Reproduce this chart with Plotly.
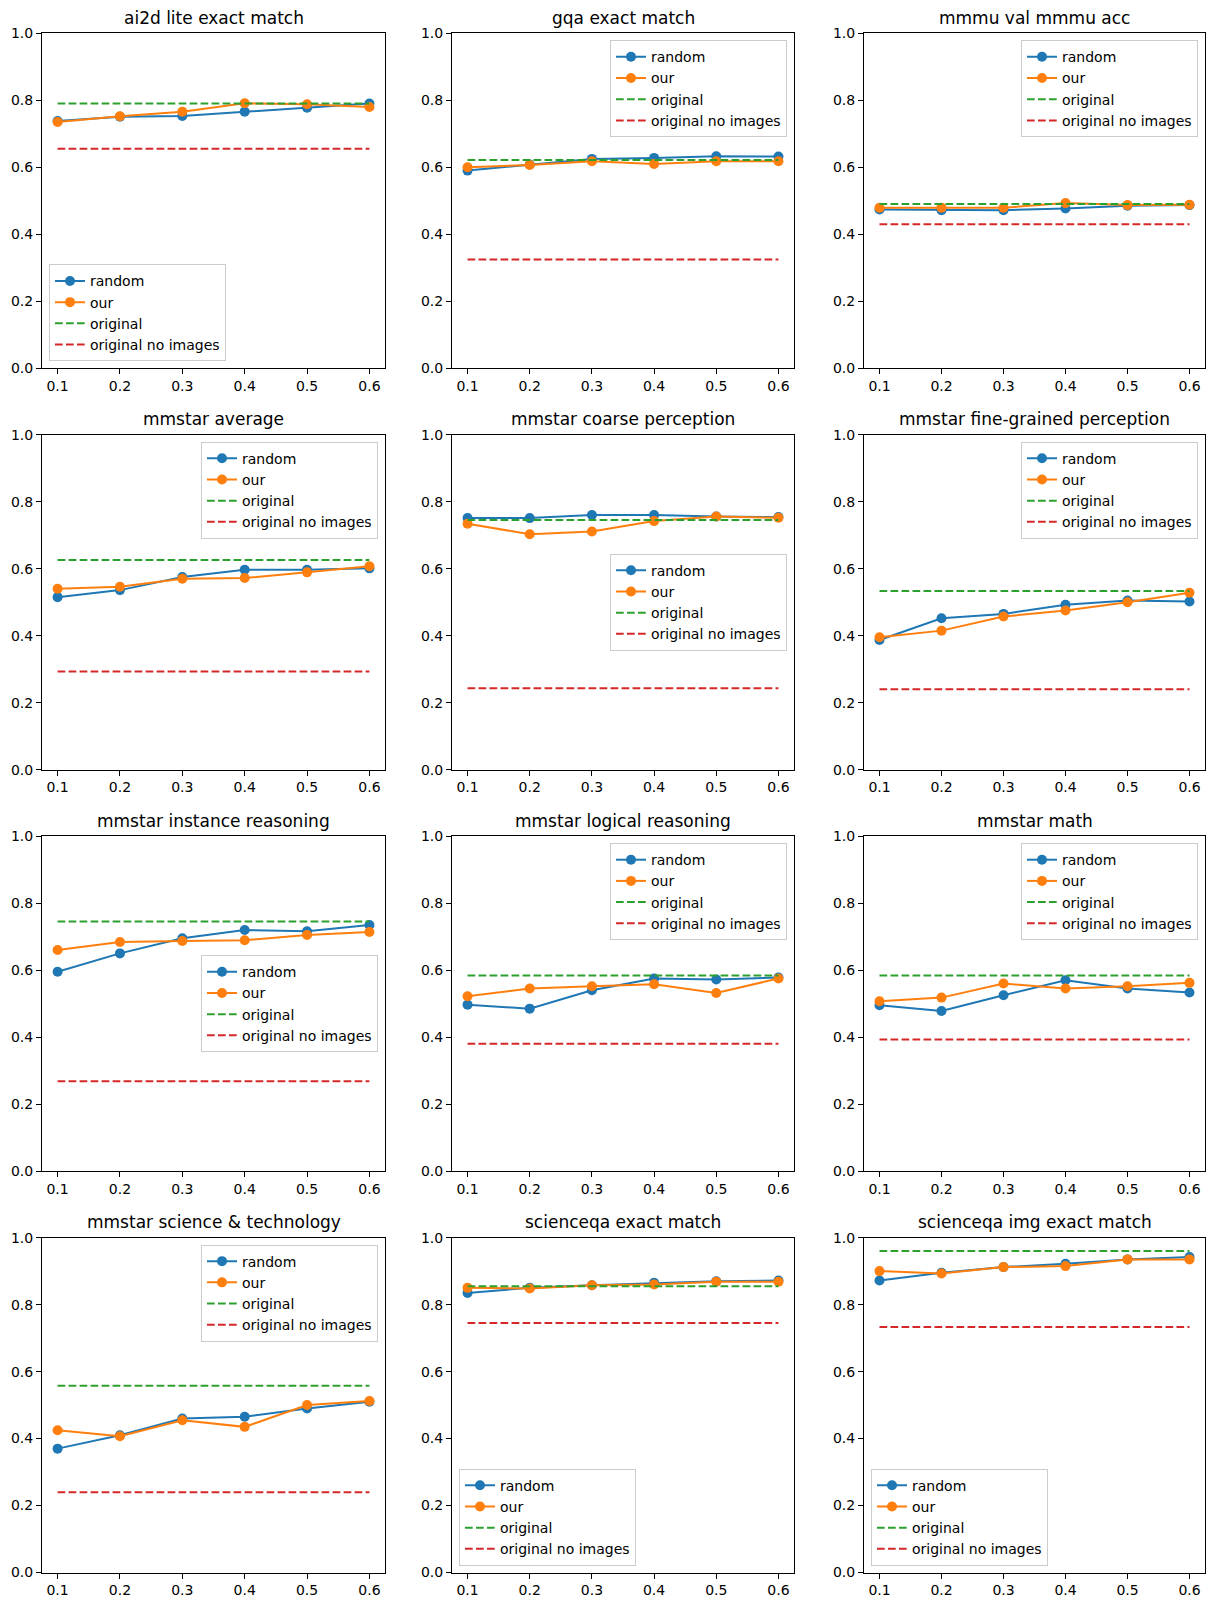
import plotly.graph_objects as go

x_vals = [0.1, 0.2, 0.3, 0.4, 0.5, 0.6]

titles = [
    "ai2d lite exact match", "gqa exact match", "mmmu val mmmu acc",
    "mmstar average", "mmstar coarse perception", "mmstar fine-grained perception",
    "mmstar instance reasoning", "mmstar logical reasoning", "mmstar math",
    "mmstar science & technology", "scienceqa exact match", "scienceqa img exact match",
]

random_scores = [
    [0.738, 0.751, 0.753, 0.766, 0.778, 0.790],
    [0.590, 0.608, 0.625, 0.628, 0.633, 0.632],
    [0.474, 0.472, 0.472, 0.477, 0.485, 0.487],
    [0.515, 0.536, 0.575, 0.597, 0.597, 0.601],
    [0.751, 0.751, 0.760, 0.760, 0.756, 0.754],
    [0.387, 0.452, 0.465, 0.492, 0.505, 0.502],
    [0.595, 0.650, 0.695, 0.720, 0.716, 0.735],
    [0.497, 0.485, 0.540, 0.575, 0.572, 0.578],
    [0.495, 0.478, 0.525, 0.570, 0.545, 0.533],
    [0.370, 0.410, 0.460, 0.465, 0.490, 0.510],
    [0.835, 0.850, 0.858, 0.865, 0.870, 0.872],
    [0.872, 0.895, 0.912, 0.922, 0.935, 0.942],
]

our_scores = [
    [0.735, 0.752, 0.766, 0.791, 0.788, 0.780],
    [0.600, 0.607, 0.618, 0.610, 0.618, 0.618],
    [0.479, 0.479, 0.479, 0.493, 0.487, 0.488],
    [0.540, 0.546, 0.570, 0.572, 0.589, 0.607],
    [0.734, 0.703, 0.711, 0.742, 0.756, 0.752],
    [0.395, 0.415, 0.457, 0.475, 0.500, 0.528],
    [0.660, 0.684, 0.687, 0.689, 0.705, 0.714],
    [0.522, 0.545, 0.552, 0.558, 0.532, 0.575],
    [0.507, 0.518, 0.560, 0.545, 0.552, 0.562],
    [0.425, 0.407, 0.455, 0.435, 0.500, 0.512],
    [0.850, 0.848, 0.858, 0.860, 0.868, 0.868],
    [0.900, 0.893, 0.912, 0.915, 0.935, 0.935],
]

original_scores = [0.790, 0.622, 0.490, 0.626, 0.745, 0.533,
                   0.745, 0.584, 0.584, 0.558, 0.855, 0.960]
no_image_scores = [0.655, 0.325, 0.430, 0.293, 0.243, 0.240,
                   0.268, 0.380, 0.393, 0.240, 0.745, 0.733]

y_ticks = [0.0, 0.2, 0.4, 0.6, 0.8, 1.0]
x_ticks = [0.1, 0.2, 0.3, 0.4, 0.5, 0.6]

# legend placement per panel: 'll' lower left, 'ur' upper right, 'cr' center right
legend_locs = ["ll", "ur", "ur", "ur", "cr", "ur", "cr", "ur", "ur", "ur", "ll", "ll"]

W, H = 1214, 1606
col_px = [(42, 385), (452, 794), (864, 1205)]                                # plot-area x extents (px)
row_px = [(25.5, 363.9), (431.0, 769.3), (836.5, 1174.8), (1242.0, 1580.3)]  # plot-area y extents (px)
TITLE_GAP = 15.5   # px between title centre and top of plot area

BLUE, ORANGE, GREEN, RED = "#1f77b4", "#ff7f0e", "#2ca02c", "#d62728"
FONT = "DejaVu Sans"
DASH = "7.7px,3.3px"

fig = go.Figure()
layout = dict(
    width=W, height=H,
    margin=dict(l=0, r=0, t=0, b=0, pad=0),
    paper_bgcolor="white", plot_bgcolor="white",
    font=dict(family=FONT, size=14, color="black"),
    annotations=[],
)

for i, title in enumerate(titles):
    r, c = divmod(i, 3)
    n = i + 1
    xs = "" if n == 1 else str(n)
    x0, x1 = col_px[c][0] / W, col_px[c][1] / W
    y0, y1 = 1 - row_px[r][1] / H, 1 - row_px[r][0] / H
    lg = "legend" if n == 1 else f"legend{n}"

    common_axis = dict(showline=True, linecolor="black", linewidth=1, mirror=True,
                       ticks="outside", ticklen=5, tickwidth=1, tickcolor="black",
                       showgrid=False, zeroline=False,
                       tickfont=dict(family=FONT, size=14, color="black"))
    layout[f"xaxis{xs}"] = dict(domain=[x0, x1], anchor=f"y{xs}", range=[0.075, 0.625],
                                tickvals=x_ticks, ticktext=[f"{v:.1f}" for v in x_ticks],
                                **common_axis)
    layout[f"yaxis{xs}"] = dict(domain=[y0, y1], anchor=f"x{xs}", range=[0, 1],
                                tickvals=y_ticks, ticktext=[f"{v:.1f}" for v in y_ticks],
                                **common_axis)

    fig.add_trace(go.Scatter(x=x_vals, y=random_scores[i], mode="lines+markers", name="random",
                             line=dict(color=BLUE, width=2), marker=dict(color=BLUE, size=10),
                             xaxis=f"x{xs}", yaxis=f"y{xs}", legend=lg))
    fig.add_trace(go.Scatter(x=x_vals, y=our_scores[i], mode="lines+markers", name="our",
                             line=dict(color=ORANGE, width=2), marker=dict(color=ORANGE, size=10),
                             xaxis=f"x{xs}", yaxis=f"y{xs}", legend=lg))
    fig.add_trace(go.Scatter(x=x_vals, y=[original_scores[i]] * len(x_vals), mode="lines",
                             name="original", line=dict(color=GREEN, width=2, dash=DASH),
                             xaxis=f"x{xs}", yaxis=f"y{xs}", legend=lg))
    fig.add_trace(go.Scatter(x=x_vals, y=[no_image_scores[i]] * len(x_vals), mode="lines",
                             name="original no images", line=dict(color=RED, width=2, dash=DASH),
                             xaxis=f"x{xs}", yaxis=f"y{xs}", legend=lg))

    layout["annotations"].append(dict(text=title, xref="paper", yref="paper",
                                      x=(x0 + x1) / 2, y=y1 + TITLE_GAP / H,
                                      xanchor="center", yanchor="middle",
                                      showarrow=False, font=dict(family=FONT, size=17, color="black")))

    loc = legend_locs[i]
    pad_x, pad_y = 7 / W, 7 / H
    if loc == "ll":
        pos = dict(x=x0 + pad_x, y=y0 + pad_y, xanchor="left", yanchor="bottom")
    elif loc == "ur":
        pos = dict(x=x1 - pad_x, y=y1 - pad_y, xanchor="right", yanchor="top")
    else:
        pos = dict(x=x1 - pad_x, y=(y0 + y1) / 2, xanchor="right", yanchor="middle")
    layout[lg] = dict(bgcolor="rgba(255,255,255,0.8)", bordercolor="#cccccc", borderwidth=1,
                      font=dict(family=FONT, size=14, color="black"),
                      itemwidth=30, tracegroupgap=0, **pos)

fig.update_layout(**layout)
fig.write_html(
    "out.html",
    config={"displayModeBar": False},
    post_script="document.documentElement.style.margin='0';document.body.style.margin='0';"
                "document.body.style.overflow='hidden';",
)
